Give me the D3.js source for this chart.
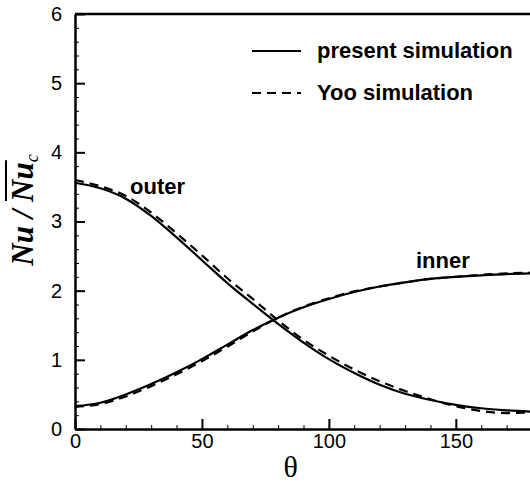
<!DOCTYPE html>
<html>
<head>
<meta charset="utf-8">
<script src="https://cdn.jsdelivr.net/npm/d3@7"></script>
<style>
  body { margin: 0; background: #fff; }
  .tick text { font-family: "Liberation Sans", Arial, sans-serif; font-size: 20px; fill: #000; }
  .lbl { font-family: "Liberation Sans", Arial, sans-serif; font-weight: bold; font-size: 22px; }
</style>
</head>
<body>
<div id="chart"></div>
<script>
// angle along the cylinder (degrees)
var theta = [0, 10, 20, 30, 40, 50, 60, 70, 80, 90, 100, 110, 120, 130, 140, 150, 160, 170, 180];

// present simulation
var presentOuter = [3.56, 3.48, 3.33, 3.08, 2.77, 2.44, 2.11, 1.81, 1.52, 1.25, 1.01, 0.81, 0.64, 0.51, 0.42, 0.35, 0.30, 0.27, 0.25];
var presentInner = [0.33, 0.38, 0.50, 0.65, 0.82, 1.01, 1.22, 1.43, 1.61, 1.76, 1.88, 1.98, 2.06, 2.12, 2.17, 2.20, 2.22, 2.24, 2.25];

// Yoo simulation
var yooOuter = [3.60, 3.51, 3.37, 3.13, 2.83, 2.51, 2.18, 1.88, 1.57, 1.29, 1.06, 0.86, 0.69, 0.55, 0.43, 0.33, 0.26, 0.23, 0.24];
var yooInner = [0.32, 0.36, 0.47, 0.62, 0.79, 0.98, 1.19, 1.41, 1.61, 1.77, 1.89, 1.99, 2.06, 2.12, 2.17, 2.20, 2.23, 2.25, 2.26];

var xTicks = [0, 50, 100, 150];
var yTicks = [0, 1, 2, 3, 4, 5, 6];
var legendLabels = ["present simulation", "Yoo simulation"];

var W = 530, H = 485;
var x = d3.scaleLinear().domain([0, 180]).range([75, 532]);
var y = d3.scaleLinear().domain([0, 6]).range([429, 14]);

var svg = d3.select("#chart").append("svg")
    .attr("width", W).attr("height", H);

// minor ticks
svg.append("g")
    .attr("transform", "translate(0," + y(0) + ")")
    .call(d3.axisBottom(x).tickValues(d3.range(0, 181, 10)).tickSize(-4).tickFormat(""))
    .call(function(g) { g.select(".domain").remove(); g.selectAll("line").attr("stroke-width", 1); });
svg.append("g")
    .attr("transform", "translate(" + x(0) + ",0)")
    .call(d3.axisLeft(y).tickValues(d3.range(0, 6.01, 0.2)).tickSize(-4).tickFormat(""))
    .call(function(g) { g.select(".domain").remove(); g.selectAll("line").attr("stroke-width", 1); });

// major axes
svg.append("g")
    .attr("transform", "translate(0," + y(0) + ")")
    .call(d3.axisBottom(x).tickValues(xTicks).tickFormat(d3.format("d"))
      .tickSizeInner(-10).tickSizeOuter(0).tickPadding(5))
    .call(function(g) {
      g.select(".domain").attr("stroke-width", 2.5);
      g.selectAll(".tick line").attr("stroke-width", 2);
    });
svg.append("g")
    .attr("transform", "translate(" + x(0) + ",0)")
    .call(d3.axisLeft(y).tickValues(yTicks).tickFormat(d3.format("d"))
      .tickSizeInner(-10).tickSizeOuter(0).tickPadding(13))
    .call(function(g) {
      g.select(".domain").attr("stroke-width", 2.5);
      g.selectAll(".tick line").attr("stroke-width", 2);
    });

// top and right frame
svg.append("line").attr("x1", x(0)).attr("x2", x(180)).attr("y1", y(6)).attr("y2", y(6))
    .attr("stroke", "#000").attr("stroke-width", 2.5);
svg.append("line").attr("x1", x(180)).attr("x2", x(180)).attr("y1", y(6)).attr("y2", y(0))
    .attr("stroke", "#000").attr("stroke-width", 2.5);

// curves
var line = d3.line()
    .curve(d3.curveMonotoneX)
    .x(function(d) { return x(d[0]); })
    .y(function(d) { return y(d[1]); });

function pairs(vals) { return theta.map(function(t, i) { return [t, vals[i]]; }); }

[[yooOuter, true], [yooInner, true], [presentOuter, false], [presentInner, false]].forEach(function(s) {
  svg.append("path")
      .datum(pairs(s[0]))
      .attr("fill", "none")
      .attr("stroke", "#000")
      .attr("stroke-width", 2.2)
      .attr("stroke-dasharray", s[1] ? "9,6" : null)
      .attr("d", line);
});

// curve labels
svg.append("text").attr("class", "lbl").attr("x", 130).attr("y", 194).text("outer");
svg.append("text").attr("class", "lbl").attr("x", 416).attr("y", 268).text("inner");

// legend
var legend = svg.append("g");
legendLabels.forEach(function(lab, i) {
  var ly = 51 + i * 42;
  legend.append("line")
      .attr("x1", 252).attr("x2", 301).attr("y1", ly).attr("y2", ly)
      .attr("stroke", "#000").attr("stroke-width", 2.2)
      .attr("stroke-dasharray", i === 1 ? "9,6" : null);
  legend.append("text").attr("class", "lbl")
      .attr("x", 317).attr("y", ly + 5).attr("dy", "0.1em").text(lab);
});

// x axis title
svg.append("text")
    .attr("x", x(85)).attr("y", 477)
    .attr("text-anchor", "middle")
    .style("font-family", "'Liberation Serif', 'Times New Roman', serif")
    .style("font-size", "30px")
    .text("θ");

// y axis title: Nu / Nu_c with overline on second Nu
var yt = svg.append("text")
    .attr("transform", "translate(33,210)rotate(-90)")
    .attr("text-anchor", "middle")
    .style("font-family", "'Liberation Serif', 'Times New Roman', serif")
    .style("font-size", "31px")
    .style("font-weight", "bold")
    .style("font-style", "italic");
yt.append("tspan").text("Nu / ");
var nu2 = yt.append("tspan").text("Nu");
yt.append("tspan").text("c")
    .style("font-size", "18px").style("font-weight", "normal")
    .attr("dy", "0.3em");

var bb = nu2.node().getBBox();
svg.append("line")
    .attr("transform", "translate(33,210)rotate(-90)")
    .attr("x1", bb.x + 2).attr("x2", bb.x + bb.width + 2)
    .attr("y1", bb.y + 1).attr("y2", bb.y + 1)
    .attr("stroke", "#000").attr("stroke-width", 2);
</script>
</body>
</html>
